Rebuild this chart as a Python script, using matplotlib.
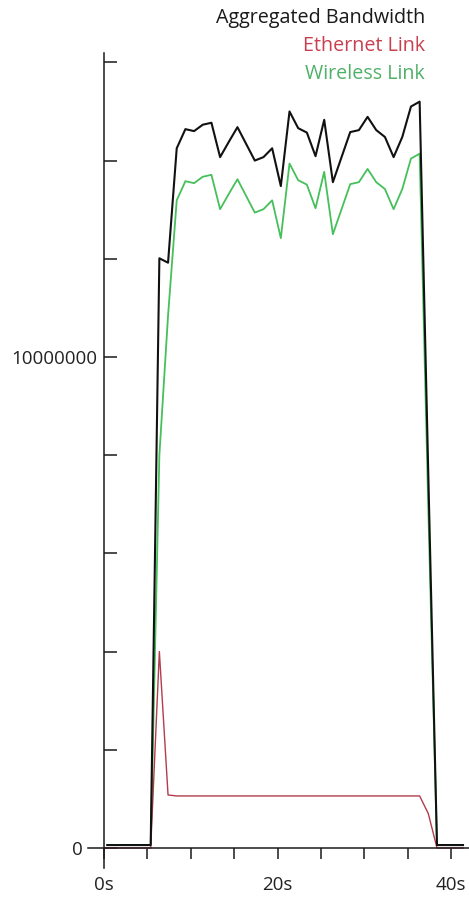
import matplotlib
matplotlib.use("Agg")
import matplotlib.pyplot as plt
import matplotlib.transforms as mtransforms
import numpy as np

# sample times (s)
seconds = [0.38, 1.38, 2.38, 3.38, 4.38, 5.38, 6.38, 7.38, 8.38, 9.38,
           10.38, 11.38, 12.38, 13.38, 14.38, 15.38, 16.38, 17.38, 18.38, 19.38,
           20.38, 21.38, 22.38, 23.38, 24.38, 25.38, 26.38, 27.38, 28.38, 29.38,
           30.38, 31.38, 32.38, 33.38, 34.38, 35.38, 36.38, 37.38, 38.38, 39.38,
           40.38, 41.38]

# bandwidth in Mbit/s
aggregated = [0.06, 0.06, 0.06, 0.06, 0.06, 0.06, 12.01, 11.92, 14.25, 14.64,
              14.60, 14.73, 14.77, 14.07, 14.38, 14.68, 14.34, 14.00, 14.07, 14.25,
              13.48, 15.00, 14.66, 14.57, 14.09, 14.83, 13.56, 14.07, 14.58, 14.62,
              14.89, 14.62, 14.48, 14.07, 14.48, 15.10, 15.20, 7.60, 0.06, 0.06,
              0.06, 0.06]
ethernet = [0.0, 0.0, 0.0, 0.0, 0.0, 0.0, 4.00, 1.08, 1.06, 1.06,
            1.06, 1.06, 1.06, 1.06, 1.06, 1.06, 1.06, 1.06, 1.06, 1.06,
            1.06, 1.06, 1.06, 1.06, 1.06, 1.06, 1.06, 1.06, 1.06, 1.06,
            1.06, 1.06, 1.06, 1.06, 1.06, 1.06, 1.06, 0.70, 0.0, 0.0,
            0.0, 0.0]
wireless = [0.06, 0.06, 0.06, 0.06, 0.06, 0.06, 8.00, 10.84, 13.19, 13.58,
            13.54, 13.67, 13.71, 13.01, 13.32, 13.62, 13.28, 12.94, 13.01, 13.19,
            12.42, 13.94, 13.60, 13.51, 13.03, 13.77, 12.50, 13.01, 13.52, 13.56,
            13.83, 13.56, 13.42, 13.01, 13.42, 14.04, 14.14, 6.90, 0.06, 0.06,
            0.06, 0.06]

series_names = ["Aggregated Bandwidth", "Ethernet Link", "Wireless Link"]
x_ticks = [0, 20, 40]
x_tick_labels = ["0s", "20s", "40s"]
y_ticks = [0, 10000000]
y_tick_labels = ["0", "10000000"]

plt.rcParams['font.family'] = ['Open Sans', 'DejaVu Sans']

MBIT = 1e6
t = np.array(seconds)

fig = plt.figure(figsize=(4.69, 9.0), dpi=100)
ax = fig.add_axes([0, 0, 1, 1])
ax.set_facecolor('white')

ax.plot(t, np.array(wireless) * MBIT, color='#45c05a', lw=1.3, zorder=3)
ax.plot(t, np.array(ethernet) * MBIT, color='#b23c4c', lw=1.0, zorder=4)
ax.plot(t, np.array(aggregated) * MBIT, color='#111111', lw=1.5, zorder=5)

ax.set_xlim(-11.99, 42.07)
ax.set_ylim(-1.059e6, 17.27e6)

# d3-style crossing axes
for side in ['top', 'right']:
    ax.spines[side].set_visible(False)
ax.spines['left'].set_position(('data', 0))
ax.spines['bottom'].set_position(('data', 0))
ax.spines['left'].set_bounds(-0.41e6, 16.2e6)
ax.spines['bottom'].set_bounds(-1.8, 42.1)
for side in ['left', 'bottom']:
    ax.spines[side].set_linewidth(1.1)
    ax.spines[side].set_color('#1a1a1a')
    ax.spines[side].set_zorder(6)

ax.set_xticks(x_ticks)
ax.set_xticklabels(x_tick_labels)
ax.set_xticks([5, 10, 15, 25, 30, 35], minor=True)
ax.set_yticks(y_ticks)
ax.set_yticklabels(y_tick_labels)
ax.set_yticks([2e6, 4e6, 6e6, 8e6, 12e6, 14e6, 16e6], minor=True)

ax.tick_params(axis='x', which='both', direction='out', length=8, width=1.1,
               color='#1a1a1a', labelsize=13.5, labelcolor='#222222', pad=12)
ax.tick_params(axis='y', which='both', direction='in', length=9, width=1.1,
               color='#1a1a1a', labelsize=13.5, labelcolor='#222222', pad=5)

# the "0" label sits left of where the x-axis line starts
zero_label = ax.get_yticklabels()[0]
zero_label.set_transform(zero_label.get_transform() +
                         mtransforms.ScaledTranslation(-0.14, 0, fig.dpi_scale_trans))

# legend as right-aligned coloured text
legend_colors = ['#1a1a1a', '#c8404f', '#4fb068']
legend_y = [18, 46, 74]
for name, col, yy in zip(series_names, legend_colors, legend_y):
    fig.text(425 / 469, 1 - yy / 900, name, color=col, fontsize=14.2,
             ha='right', va='center')

fig.savefig('out.png', dpi=100, facecolor='white')
